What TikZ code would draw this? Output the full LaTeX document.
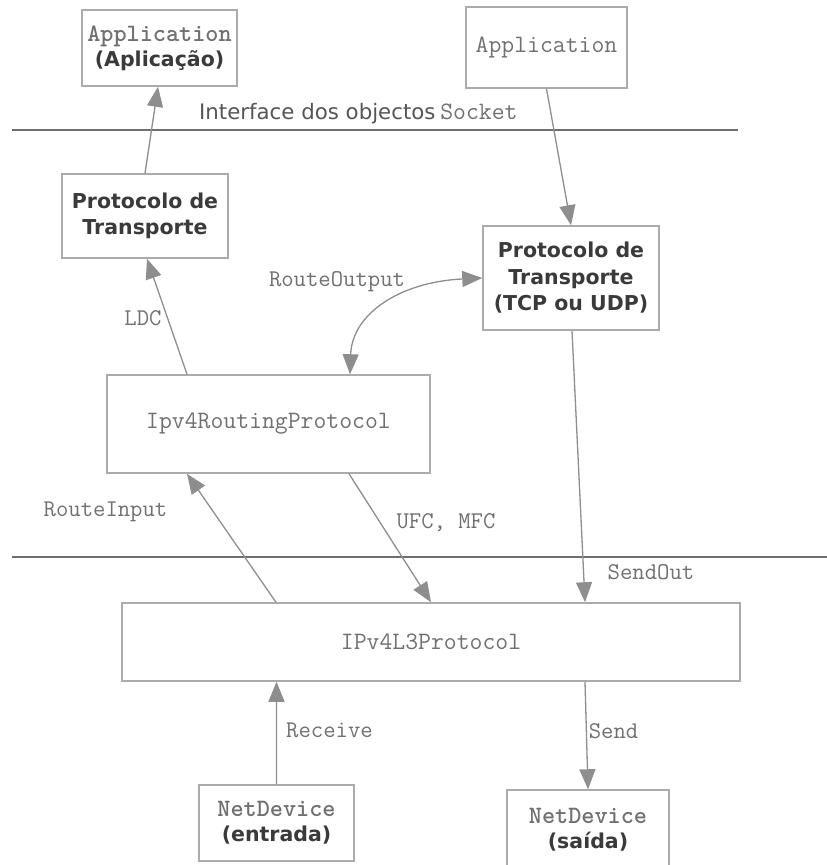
\documentclass[tikz,border=0pt]{standalone}
\usepackage{fontspec}
\usetikzlibrary{arrows.meta,calc}
\newfontfamily\dvsans{DejaVu Sans}
\definecolor{boxc}{HTML}{ABABAB}
\definecolor{linec}{HTML}{8E8E8E}
\definecolor{sepc}{HTML}{6E6E6E}
\definecolor{monoc}{HTML}{707070}
\definecolor{boldc}{HTML}{3A3A3A}
\definecolor{sansc}{HTML}{555555}
\newcommand\mfont{\ttfamily\fontsize{25bp}{25bp}\selectfont\color{monoc}}
\newcommand\bfont{\dvsans\bfseries\fontsize{20.5bp}{25bp}\selectfont\color{boldc}}
\newcommand\bfontb{\dvsans\bfseries\fontsize{20.5bp}{26.5bp}\selectfont\color{boldc}}
\tikzset{
  box/.style={draw=boxc, line width=1.5bp, rectangle, inner sep=0pt, align=center, fill=white},
  lbl/.style={inner sep=0pt, text=monoc, font=\ttfamily\fontsize{24bp}{24bp}\selectfont},
  arr/.style={draw=linec, line width=1.3bp, -{Triangle[length=20bp,width=16bp]}},
  darr/.style={draw=linec, line width=1.3bp, {Triangle[length=20bp,width=16bp]}-{Triangle[length=20bp,width=16bp]}},
  sepline/.style={draw=sepc, line width=1.5bp}
}
\begin{document}
\begin{tikzpicture}[x=1bp,y=-1bp]
\useasboundingbox (0,0) rectangle (827,865);
% separator lines
\coordinate (s1a) at (12,130);
\coordinate (s1b) at (738,130);
\coordinate (s2a) at (12,557);
\coordinate (s2b) at (827,557);
\draw[sepline] (s1a) -- (s1b);
\draw[sepline] (s2a) -- (s2b);
% boxes
\node[box, font=\bfont, minimum width=155bp, minimum height=76bp] (app1) at (159.5,48) {{\mfont Application}\\(Aplicação)};
\node[box, font=\mfont, minimum width=161bp, minimum height=81bp] (app2) at (546.5,47.5) {Application};
\node[box, font=\bfontb, minimum width=166bp, minimum height=84bp] (tl) at (145,216) {Protocolo de\\Transporte};
\node[box, font=\bfontb, minimum width=176bp, minimum height=104bp] (trr) at (571,278) {Protocolo de\\Transporte\\(TCP ou UDP)};
\node[box, font=\mfont, minimum width=323bp, minimum height=98bp] (rt) at (268.5,424) {Ipv4RoutingProtocol};
\node[box, font=\mfont, minimum width=618bp, minimum height=78bp] (l3) at (431,642) {IPv4L3Protocol};
\node[box, font=\bfont, minimum width=155bp, minimum height=76bp] (ent) at (276.5,823) {{\mfont NetDevice}\\(entrada)};
\node[box, font=\bfont, minimum width=162bp, minimum height=80bp] (sai) at (588,830) {{\mfont NetDevice}\\(saída)};
% labels
\node[inner sep=0pt, anchor=west, font=\dvsans\fontsize{21.3bp}{21.3bp}\selectfont, text=sansc] (iface) at (199,114) {Interface dos objectos\hspace{-2bp} {\ttfamily\fontsize{25bp}{25bp}\selectfont\color{monoc}Socket}};
\node[lbl] (lro) at (337,282) {RouteOutput};
\node[lbl] (lldc) at (143,318) {LDC};
\node[lbl] (lri) at (105.5,512) {RouteInput};
\node[lbl] (lufc) at (446,523) {UFC, MFC};
\node[lbl] (lso) at (651,572) {SendOut};
\node[lbl] (lrc) at (329.5,730) {Receive};
\node[lbl] (lsd) at (613.5,731) {Send};
% connectors
\draw[arr] (tl.north) -- ([xshift=-1.5bp]app1.south);
\draw[arr] ([xshift=-81.5bp]rt.north) -- ([xshift=2bp]tl.south);
\draw[arr] (app2.south) -- (trr.north);
\draw[darr] ([xshift=81.5bp]rt.north) .. controls +(2,-60) and +(-83,4) .. (trr.west);
\draw[arr] ([xshift=1bp]trr.south) -- ([xshift=154bp]l3.north);
\draw[arr] ([xshift=80.5bp]rt.south) -- (l3.north);
\draw[arr] ([xshift=-155bp]l3.north) -- ([xshift=-81.5bp]rt.south);
\draw[arr] (ent.north) -- ([xshift=-154.5bp]l3.south);
\draw[arr] ([xshift=154bp]l3.south) -- (sai.north);
\end{tikzpicture}
\end{document}
